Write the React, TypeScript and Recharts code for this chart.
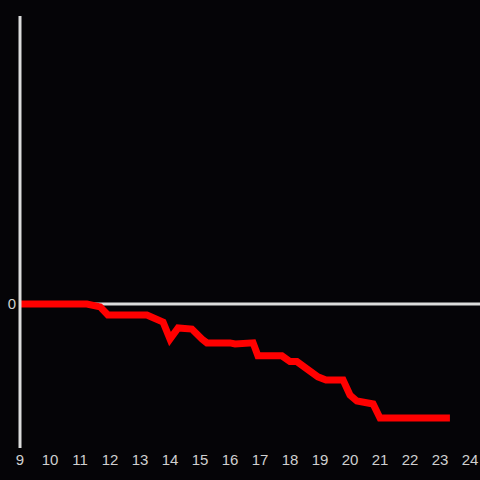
import { LineChart, Line, XAxis, YAxis, ReferenceLine } from 'recharts';

const hours = [9, 11.23, 11.67, 11.93, 13.23, 13.77, 14.0, 14.27, 14.73, 15.07, 15.23, 16.0, 16.17, 16.77, 16.93, 17.73, 18.0, 18.23, 18.93, 19.2, 19.77, 20.0, 20.23, 20.77, 21.0, 23.33];
const values = [0, 0, -1, -3.8, -3.8, -6.3, -12.2, -8.3, -8.7, -12.2, -13.5, -13.5, -13.9, -13.5, -18, -18, -20, -20, -25.3, -26.4, -26.4, -31.6, -33.7, -34.7, -39.6, -39.6];
const hourTicks = [9, 10, 11, 12, 13, 14, 15, 16, 17, 18, 19, 20, 21, 22, 23, 24];

const data = hours.map((h, i) => ({ h, v: values[i] }));

const tickStyle = { fill: '#d0d0d0', fontSize: 15, fontFamily: 'Liberation Sans, Arial, sans-serif' };

export default function App() {
  return (
    <div style={{ position: 'fixed', left: 0, top: 0, width: 480, height: 480, background: '#050407' }}>
      <LineChart width={480} height={480} data={data} margin={{ top: 16, right: 0, left: 0, bottom: 2 }}>
        <XAxis
          dataKey="h"
          type="number"
          domain={[9, 24.333]}
          ticks={hourTicks}
          axisLine={false}
          tickLine={false}
          tickMargin={0}
          tick={tickStyle}
          height={30}
          interval={0}
        />
        <YAxis
          domain={[-50, 100]}
          ticks={[0]}
          width={20}
          tickLine={false}
          tickMargin={-2}
          axisLine={{ stroke: '#dcdcdc', strokeWidth: 3 }}
          tick={tickStyle}
        />
        <ReferenceLine y={0} stroke="#dcdcdc" strokeWidth={3} />
        <Line
          dataKey="v"
          type="linear"
          stroke="#ff0000"
          strokeWidth={7}
          dot={false}
          isAnimationActive={false}
        />
      </LineChart>
    </div>
  );
}
